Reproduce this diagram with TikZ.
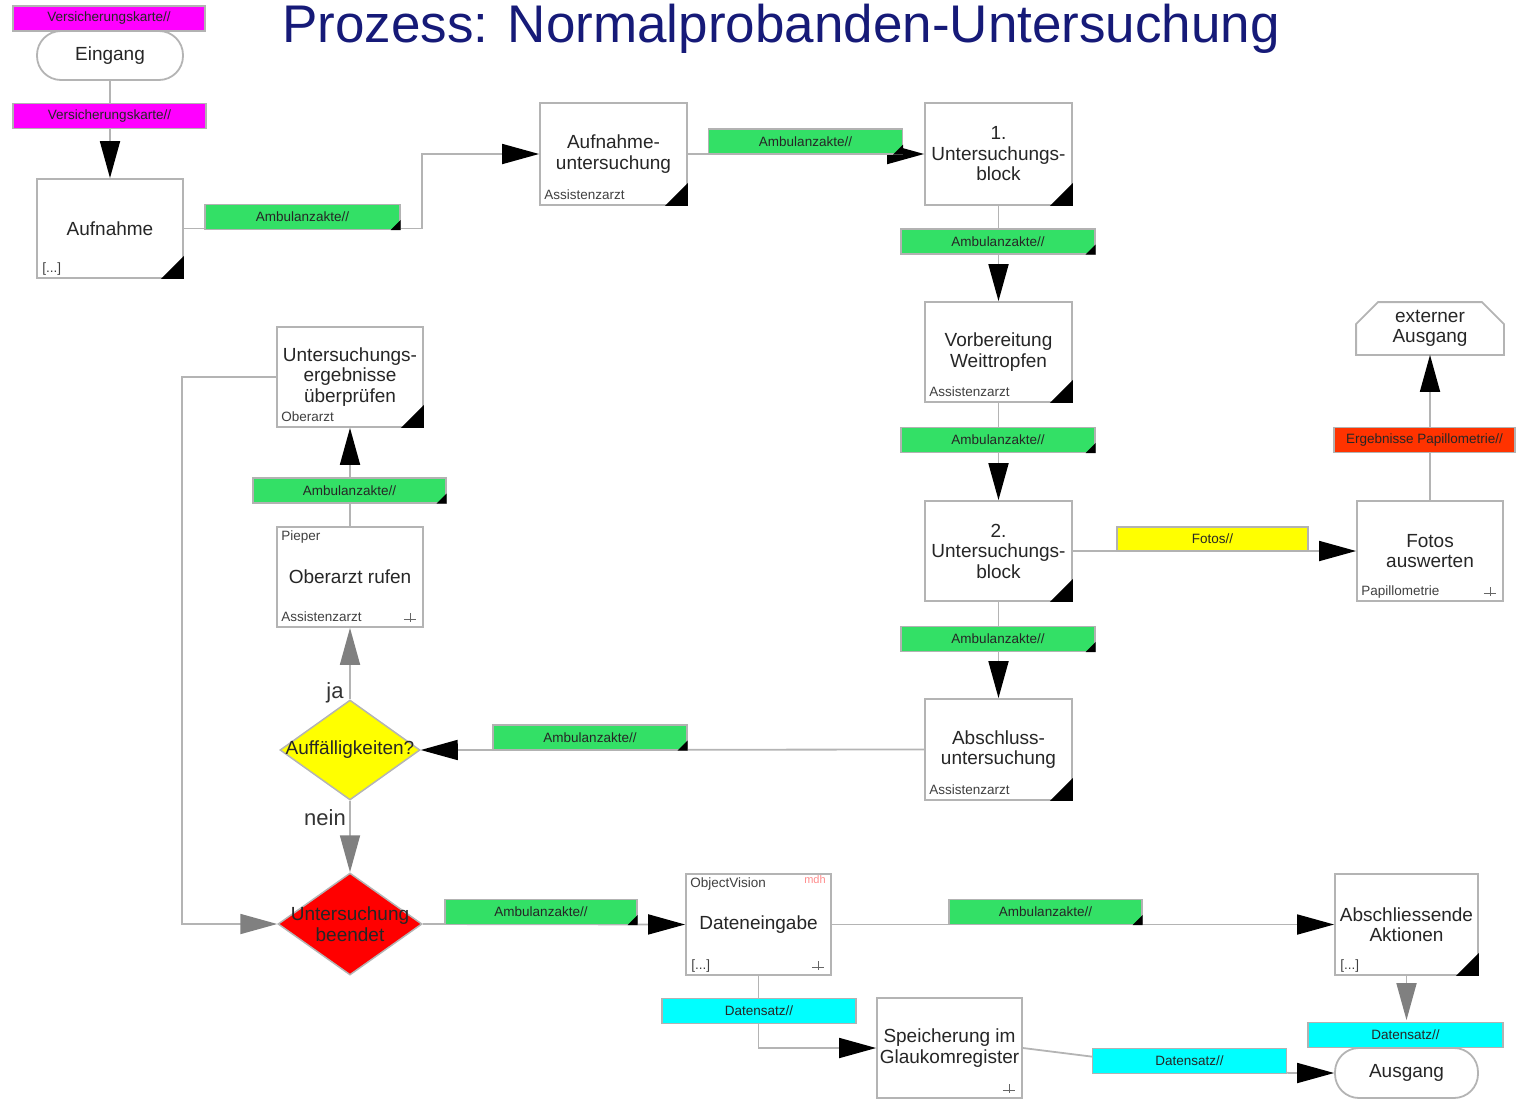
\documentclass[tikz,border=0pt]{standalone}
\usepackage{fontspec}
\setmainfont{Liberation Sans}
\usetikzlibrary{arrows.meta,shapes.geometric,calc}
\definecolor{lgreen}{RGB}{51,224,102}
\definecolor{mag}{RGB}{255,0,255}
\definecolor{cyn}{RGB}{0,255,255}
\definecolor{yel}{RGB}{255,255,0}
\definecolor{orred}{RGB}{255,51,0}
\definecolor{navy}{RGB}{22,26,120}
\definecolor{bordergray}{RGB}{180,180,180}
\definecolor{mdhpink}{RGB}{255,140,140}
\newcommand\ctri[1]{\fill[black] (#1.south east) -- ++(-23pt,0pt) -- ++(23pt,23pt) -- cycle;}
\newcommand\ltri[1]{\fill[black] (#1.south east) -- ++(-10pt,0pt) -- ++(10pt,10pt) -- cycle;}
\newcommand\symb[1]{\draw[black!60, line width=0.8pt] ([xshift=-14pt,yshift=9pt]#1.south east) +(-6pt,0pt) -- +(6pt,0pt) +(0pt,-3pt) -- +(0pt,6pt);}
\begin{document}
\begin{tikzpicture}[x=1pt,y=-1pt,
 box/.style={draw=bordergray, line width=1.8pt, fill=white, minimum width=146pt, minimum height=100pt, inner sep=2pt, align=center, font=\fontsize{19}{20.5}\selectfont, text=black!85},
 stad/.style={box, rounded corners=24pt, minimum height=49pt},
 conn/.style={draw=bordergray, line width=1.8pt},
 barr/.style={conn, -{Triangle[length=37pt,width=20pt,color=black]}},
 garr/.style={conn, -{Triangle[length=37pt,width=20pt,color=gray]}},
 lab/.style={draw=black!30, line width=1.2pt, minimum width=194pt, minimum height=25pt, inner sep=0pt, font=\fontsize{13.5}{14}\selectfont, text=black!85},
 glab/.style={lab, fill=lgreen},
 small/.style={font=\fontsize{13.5}{14}\selectfont, text=black!75, inner sep=0pt},
 dia/.style={diamond, draw=bordergray, line width=1.5pt, inner sep=0pt},
 dtext/.style={font=\fontsize{19}{20.5}\selectfont, text=black!85, align=center, inner sep=0pt},
 yn/.style={font=\fontsize{22}{24}\selectfont, text=black!80, inner sep=0pt},
]
\useasboundingbox (0,0) rectangle (1517,1098);

% title
\node[anchor=base, text=navy, font=\fontsize{53}{60}\selectfont, inner sep=0pt] (title) at (781,42) {Prozess: Normalprobanden-Untersuchung};

% process boxes
\node[stad] (eing) at (110,55.5) {Eingang};
\node[box, minimum height=99pt] (aufn) at (110,228.5) {Aufnahme};
\node[box, minimum width=147pt, minimum height=102pt] (aufu) at (613.5,154) {Aufnahme-\\untersuchung};
\node[box, minimum width=147pt, minimum height=102pt] (ub1) at (998.5,154) {1.\\Untersuchungs-\\block};
\node[box, minimum width=147pt] (vorb) at (998.5,352) {Vorbereitung\\Weittropfen};
\node[box, minimum width=147pt] (ub2) at (998.5,551) {2.\\Untersuchungs-\\block};
\node[box] (fotos) at (1430,551) {Fotos\\auswerten};
\node[box, draw=none, fill=none, minimum height=51pt] (ext) at (1430,328.5) {externer\\Ausgang};
\draw[draw=bordergray, line width=1.8pt] (ext.south west) -- ([yshift=-22pt]ext.north west) -- ([xshift=22pt]ext.north west) -- ([xshift=-22pt]ext.north east) -- ([yshift=-22pt]ext.north east) -- (ext.south east) -- cycle;
\node[box, minimum width=147pt, minimum height=101pt] (absu) at (998.5,749.5) {Abschluss-\\untersuchung};
\node[box] (uep) at (350,377) {Untersuchungs-\\ergebnisse\\überprüfen};
\node[box] (obr) at (350,577) {Oberarzt rufen};
\node[dia, fill=yel, minimum width=140pt, minimum height=100pt] (auff) at (350,750) {};
\node[dtext] (aufft) at (auff.center) {Auffälligkeiten?};
\node[dia, fill=red, minimum width=144pt, minimum height=102pt] (ube) at (350,924) {};
\node[dtext] (ubet) at (ube.center) {Untersuchung\\beendet};
\node[box, minimum width=145pt, minimum height=101pt] (dat) at (758.5,924.5) {Dateneingabe};
\node[box, minimum width=143pt, minimum height=101pt] (absa) at (1406.5,924.5) {Abschliessende\\Aktionen};
\node[box, minimum width=145pt] (spei) at (949.5,1048) {Speicherung im\\Glaukomregister};
\node[stad, minimum width=143pt, minimum height=50pt] (ausg) at (1406.5,1073) {Ausgang};

% corner marks
\ctri{aufn} \ctri{aufu} \ctri{ub1} \ctri{vorb} \ctri{ub2} \ctri{absu} \ctri{uep} \ctri{absa}
\symb{fotos} \symb{obr} \symb{dat} \symb{spei}

% corner texts
\node[small, anchor=base west] (aufn-c) at ([xshift=6pt,yshift=6pt]aufn.south west) {[...]};
\node[small, anchor=base west] (aufu-c) at ([xshift=5pt,yshift=6pt]aufu.south west) {Assistenzarzt};
\node[small, anchor=base west] (vorb-c) at ([xshift=5pt,yshift=6pt]vorb.south west) {Assistenzarzt};
\node[small, anchor=base west] (absu-c) at ([xshift=5pt,yshift=6pt]absu.south west) {Assistenzarzt};
\node[small, anchor=base west] (uep-c) at ([xshift=5pt,yshift=6pt]uep.south west) {Oberarzt};
\node[small, anchor=base west] (obr-t) at ([xshift=5pt,yshift=-14pt]obr.north west) {Pieper};
\node[small, anchor=base west] (obr-c) at ([xshift=5pt,yshift=6pt]obr.south west) {Assistenzarzt};
\node[small, anchor=base west] (fotos-c) at ([xshift=5pt,yshift=6pt]fotos.south west) {Papillometrie};
\node[small, anchor=base west] (dat-t) at ([xshift=5pt,yshift=-14pt]dat.north west) {ObjectVision};
\node[small, anchor=base east, text=mdhpink, font=\fontsize{11}{12}\selectfont] (dat-m) at ([xshift=-6pt,yshift=-10pt]dat.north east) {mdh};
\node[small, anchor=base west] (dat-c) at ([xshift=6pt,yshift=6pt]dat.south west) {[...]};
\node[small, anchor=base west] (absa-c) at ([xshift=6pt,yshift=6pt]absa.south west) {[...]};

% connectors
\coordinate (k1) at (422,228.5);
\coordinate (k2) at (182,377);
\coordinate (k3) at (1095,1057);
\coordinate (k4) at (1290,1073);
\draw[barr] (eing.south) -- (aufn.north);
\draw[barr] (aufn.east) -- (k1) |- (aufu.west);
\draw[barr] (aufu.east) -- (ub1.west);
\draw[barr] (ub1.south) -- (vorb.north);
\draw[barr] (vorb.south) -- (ub2.north);
\draw[barr] (ub2.east) -- (fotos.west);
\draw[barr] (fotos.north) -- (ext.south);
\draw[barr] (ub2.south) -- (absu.north);
\draw[barr] (absu.west) -- (auff.east);
\draw[garr] (auff.north) -- (obr.south);
\draw[barr] (obr.north) -- (uep.south);
\draw[garr] (uep.west) -- (k2) |- (ube.west);
\draw[garr] (auff.south) -- (ube.north);
\draw[barr] (ube.east) -- (dat.west);
\draw[barr] (dat.east) -- (absa.west);
\draw[garr, shorten >=27pt] (absa.south) -- (ausg.north);
\draw[barr] (dat.south) |- (spei.west);
\draw[barr] (spei.east) -- (k3) -- (k4) -- (ausg.west);

% yes/no
\node[yn] (ja) at (335,693) {ja};
\node[yn] (nein) at (325,818) {nein};

% data labels
\node[lab, fill=mag, minimum width=192pt] (vk1) at (109,18.5) {Versicherungskarte//};
\node[lab, fill=mag, minimum width=193pt] (vk2) at (109.5,116) {Versicherungskarte//};
\node[glab, minimum width=195pt] (amb1) at (302.5,217) {Ambulanzakte//}; \ltri{amb1}
\node[glab] (amb2) at (805.5,141.5) {Ambulanzakte//}; \ltri{amb2}
\node[glab] (amb3) at (998,241.5) {Ambulanzakte//}; \ltri{amb3}
\node[glab] (amb4) at (998,440) {Ambulanzakte//}; \ltri{amb4}
\node[glab] (amb5) at (998,639) {Ambulanzakte//}; \ltri{amb5}
\node[glab] (amb6) at (590,737.5) {Ambulanzakte//}; \ltri{amb6}
\node[glab, minimum width=193pt] (amb7) at (349.5,490.5) {Ambulanzakte//}; \ltri{amb7}
\node[glab, minimum width=192pt] (amb8) at (541,912) {Ambulanzakte//}; \ltri{amb8}
\node[glab, minimum width=193pt] (amb9) at (1045.5,912) {Ambulanzakte//}; \ltri{amb9}
\node[lab, fill=yel, minimum width=191pt, minimum height=24pt] (fot) at (1212.5,539) {Fotos//};
\node[lab, fill=orred, minimum width=181pt] (erg) at (1424.5,440) {Ergebnisse Papillometrie//};
\node[lab, fill=cyn] (ds1) at (759,1011) {Datensatz//};
\node[lab, fill=cyn] (ds2) at (1189.5,1061) {Datensatz//};
\node[lab, fill=cyn, minimum width=195pt] (ds3) at (1405.5,1035) {Datensatz//};
\end{tikzpicture}
\end{document}
